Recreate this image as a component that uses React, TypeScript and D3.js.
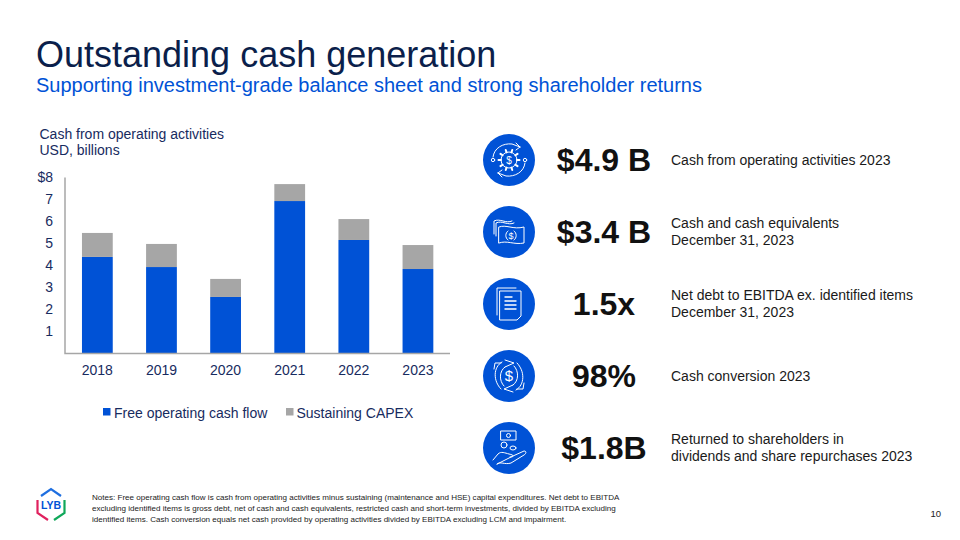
import React from "react";
import * as d3 from "d3";

const years = ["2018", "2019", "2020", "2021", "2022", "2023"];
const freeCashFlow = [4.39, 3.93, 2.57, 6.93, 5.16, 3.84];
const sustainingCapex = [1.09, 1.05, 0.82, 0.77, 0.95, 1.09];
const yTicks = [1, 2, 3, 4, 5, 6, 7];
const seriesNames = ["Free operating cash flow", "Sustaining CAPEX"];

const kpiValues = ["$4.9 B", "$3.4 B", "1.5x", "98%", "$1.8B"];
const kpiLabels = [
  ["Cash from operating activities 2023"],
  ["Cash and cash equivalents", "December 31, 2023"],
  ["Net debt to EBITDA ex. identified items", "December 31, 2023"],
  ["Cash conversion 2023"],
  ["Returned to shareholders in", "dividends and share repurchases 2023"],
];
const notes = [
  "Notes: Free operating cash flow is cash from operating activities minus sustaining (maintenance and HSE) capital expenditures. Net debt to EBITDA",
  "excluding identified items is gross debt, net of cash and cash equivalents, restricted cash and short-term investments, divided by EBITDA excluding",
  "identified items. Cash conversion equals net cash provided by operating activities divided by EBITDA excluding LCM and impairment.",
];

const TITLE = "#0B1F4B";
const NAVY = "#172B60";
const BLUE = "#0052D6";
const GREY = "#A6A6A6";
const FONT = "'Liberation Sans', Arial, sans-serif";

const x = d3.scaleBand<string>().domain(years).range([65.3, 450]).paddingInner(0.52).paddingOuter(0.26);
const y = d3.scaleLinear().domain([0, 8]).range([353.5, 177.5]);

const stroke = { fill: "none", stroke: "#fff", strokeWidth: 1, strokeLinecap: "round" as const, strokeLinejoin: "round" as const };

function Dollar({ s = 9 }: { s?: number }) {
  return (
    <text textAnchor="middle" y={s * 0.36} fontSize={s} fill="#fff" fontFamily={FONT}>$</text>
  );
}

function IconGear() {
  const teeth = d3.range(10).map((i) => {
    const a = (i / 10) * Math.PI * 2;
    return `M${8 * Math.cos(a)},${8 * Math.sin(a)}L${10.5 * Math.cos(a)},${10.5 * Math.sin(a)}`;
  }).join("");
  return (
    <g {...stroke}>
      <circle r={8} />
      <path d={teeth} strokeWidth={2} />
      <g stroke="none"><Dollar s={10} /></g>
      <path d="M-16,-3C-15,-12 -6,-17 3,-16L11,-13M11,-13L7,-17M11,-13L7,-10" />
      <path d="M16,3C15,12 6,17 -3,16L-11,13M-11,13L-7,17M-11,13L-7,10" />
      <circle cx={-16} cy={0} r={1.7} />
      <circle cx={16} cy={0} r={1.7} />
    </g>
  );
}

function IconCash() {
  return (
    <g {...stroke}>
      <path d="M-15,2V-11C-9,-14 -3,-8 3,-11" />
      <path d="M-13,4V-9C-7,-12 -1,-6 5,-9" />
      <path d="M-10,-5C-3,-8 4,-2 15,-5V11C5,13 -2,8 -10,11Z" />
      <path d="M-1,-1C-4,1 -4,6 -1,8M5,-1C8,1 8,6 5,8" />
      <g stroke="none" transform="translate(2,3.5)"><Dollar s={9} /></g>
    </g>
  );
}

function IconDoc() {
  return (
    <g {...stroke}>
      <path d="M-12,11V-16H7" />
      <path d="M-9,-13H12V12L8,16H-9Z" />
      <path d="M-4,-7H3M-4,-3H7M-4,1H7M-4,5H7" strokeWidth={1.4} />
    </g>
  );
}

function IconCycle() {
  return (
    <g {...stroke}>
      <path d="M-7,-14C-16,-9 -16,5 -8,13" />
      <path d="M-15,-7L-14,-13L-8,-13" />
      <path d="M-4,-9C-10,-5 -10,5 -5,10" />
      <path d="M7,14C16,9 16,-5 8,-13" />
      <path d="M15,7L14,13L8,13" />
      <path d="M4,9C10,5 10,-5 5,-10" />
      <path d="M-4,-16L5,-13L-4,-9" />
      <path d="M4,16L-5,13L4,9" />
      <g stroke="none"><Dollar s={15} /></g>
    </g>
  );
}

function IconHand() {
  return (
    <g {...stroke}>
      <rect x={-8} y={-17} width={15} height={9} />
      <circle cx={-0.5} cy={-12.5} r={2} />
      <circle cx={-5} cy={-3} r={3} />
      <ellipse cx={4} cy={0} rx={3} ry={2} />
      <path d="M-16,12L-11,6C-8,3 -4,5 0,6C5,7 6,9 1,9M4,8L15,3C18,3 17,6 15,7L2,15C-4,17 -9,13 -12,16Z" />
    </g>
  );
}

const icons = [IconGear, IconCash, IconDoc, IconCycle, IconHand];
const kpiCy = [160, 232, 304, 376, 448];

export default function App() {
  const stack = d3.stack<number>().keys(["a", "b"]).value((i, k) => (k === "a" ? freeCashFlow[i] : sustainingCapex[i]))(years.map((_, i) => i));
  return (
    <svg width={960} height={540} viewBox="0 0 960 540" style={{ position: "fixed", left: 0, top: 0, background: "#fff" }} fontFamily={FONT}>
      <text x={36} y={67} fontSize={36} fill={TITLE}>Outstanding cash generation</text>
      <text x={36} y={92} fontSize={20} fill={BLUE}>Supporting investment-grade balance sheet and strong shareholder returns</text>

      <text x={39.5} y={139} fontSize={14} fill={NAVY}>Cash from operating activities</text>
      <text x={39.5} y={155} fontSize={14} fill={NAVY}>USD, billions</text>

      {stack.map((layer, si) => (
        <g key={si} fill={si === 0 ? BLUE : GREY}>
          {layer.map((d, i) => (
            <rect key={years[i]} x={x(years[i])} width={x.bandwidth()} y={y(d[1])} height={y(d[0]) - y(d[1])} />
          ))}
        </g>
      ))}
      <path d={`M65,${y(8)}V${y(0)}H450`} fill="none" stroke={GREY} strokeWidth={1.5} />

      <text x={53} y={y(8) + 4.5} fontSize={14} fill={NAVY} textAnchor="end">$8</text>
      {yTicks.map((t) => (
        <text key={t} x={53} y={y(t) + 4.5} fontSize={14} fill={NAVY} textAnchor="end">{t}</text>
      ))}
      {years.map((yr) => (
        <text key={yr} x={x(yr)! + x.bandwidth() / 2} y={375} fontSize={14} fill={NAVY} textAnchor="middle">{yr}</text>
      ))}

      <rect x={103} y={408} width={7.5} height={7.5} fill={BLUE} />
      <text x={114} y={417.5} fontSize={14} fill={NAVY}>{seriesNames[0]}</text>
      <rect x={286} y={408} width={7.5} height={7.5} fill={GREY} />
      <text x={296.5} y={417.5} fontSize={14} fill={NAVY}>{seriesNames[1]}</text>

      {kpiValues.map((v, i) => {
        const Icon = icons[i];
        const lines = kpiLabels[i];
        return (
          <g key={v}>
            <g transform={`translate(509,${kpiCy[i]})`}>
              <circle r={26} fill={BLUE} />
              <Icon />
            </g>
            <text x={604} y={kpiCy[i] + 11} fontSize={32} fontWeight={700} fill="#111" textAnchor="middle">{v}</text>
            {lines.map((l, li) => (
              <text key={l} x={671} y={kpiCy[i] + 4.5 + (li - (lines.length - 1) / 2) * 16.5} fontSize={14} fill="#1a1a1a">{l}</text>
            ))}
          </g>
        );
      })}

      <g transform="translate(51,505)" fill="none" strokeWidth={2.2}>
        <path d="M-10,-9L0,-16L10,-9" stroke="#1F6FE0" />
        <path d="M-13.5,-5V8L-3,15" stroke="#E0215E" />
        <path d="M13.5,-5V8L3,15" stroke="#10A85A" />
        <text x={0} y={4} textAnchor="middle" fontSize={10.5} fontWeight={700} fill={BLUE} stroke="none">LYB</text>
      </g>

      {notes.map((n, i) => (
        <text key={i} x={92} y={500 + i * 11} fontSize={8.06} fill="#222">{n}</text>
      ))}
      <text x={941} y={517} fontSize={9.5} fill="#222" textAnchor="end">10</text>
    </svg>
  );
}
